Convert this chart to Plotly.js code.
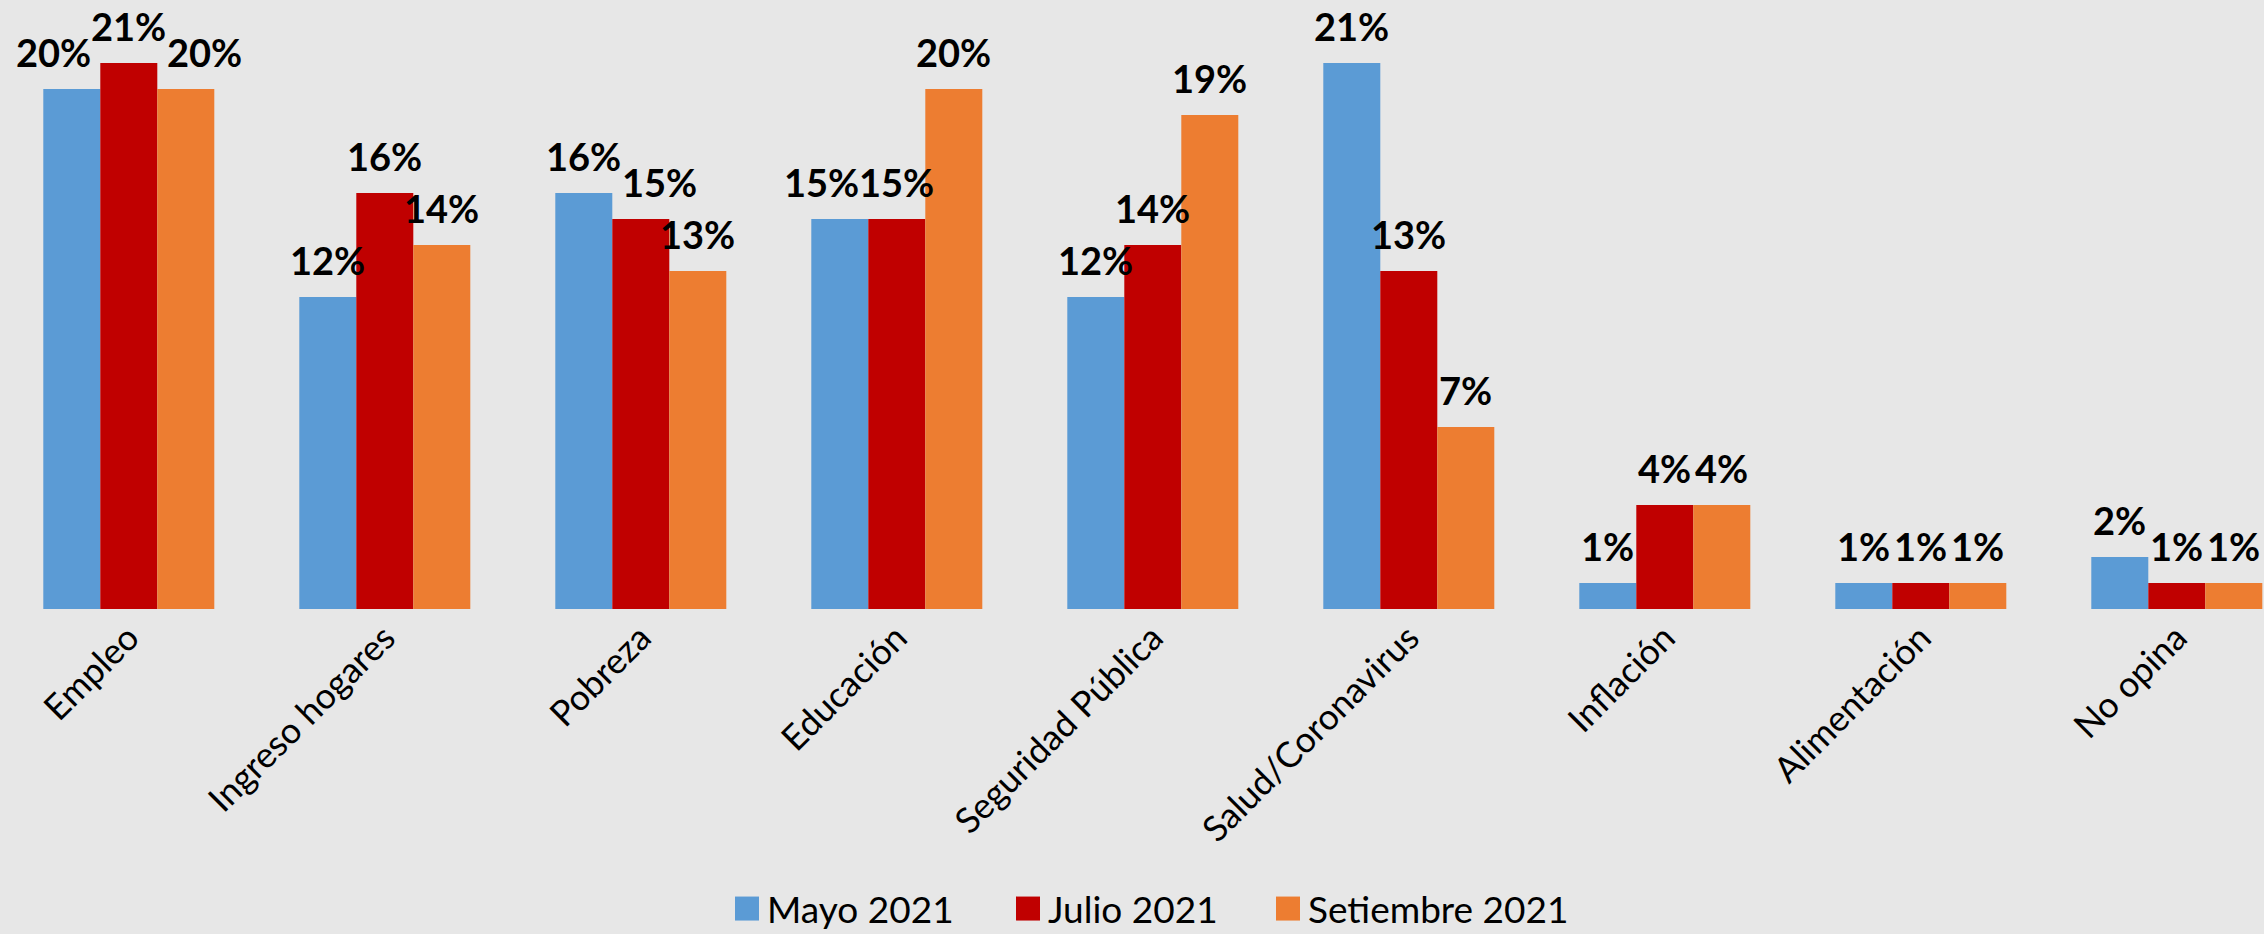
<!DOCTYPE html>
<html>
<head>
<meta charset="utf-8">
<script src="https://cdn.plot.ly/plotly-3.0.1.min.js"></script>
<style>
html,body{margin:0;padding:0;background:#e7e7e7;}
#chart{width:2264px;height:934px;}
</style>
</head>
<body>
<div id="chart"></div>
<script>
// ---- data ----
const categories = ['Empleo','Ingreso hogares','Pobreza','Educación','Seguridad Pública','Salud/Coronavirus','Inflación','Alimentación','No opina'];
const seriesNames = ['Mayo 2021','Julio 2021','Setiembre 2021'];
const mayo2021 = [20,12,16,15,12,21,1,1,2];
const julio2021 = [21,16,15,15,14,13,4,1,1];
const setiembre2021 = [20,14,13,20,19,7,4,1,1];

// ---- style ----
const colors = ['#5B9BD5','#C00000','#ED7D31'];
const W = 2264, H = 934;
const margin = {l:0, r:0, t:0, b:325};
const pxPerCat = 256, firstCenterPx = 128.8;
const xRange = [-firstCenterPx/pxPerCat, (W - firstCenterPx)/pxPerCat];
const pxPerUnit = 26;
const plotH = H - margin.t - margin.b;
const yRange = [0, plotH/pxPerUnit];
const bargap = 0.332;
const barW = (1 - bargap)/3;           // in category units
const barWpx = barW * pxPerCat;
const labelFont = {family:'Lato', size:38, color:'#000000', weight:700};
const tickFont = {family:'Lato', size:35.5, color:'#000000'};
const legendFont = {family:'Lato', size:37, color:'#000000'};

const seriesValues = [mayo2021, julio2021, setiembre2021];
const legendIds = ['legend','legend2','legend3'];

function draw(){
  const cv = document.createElement('canvas').getContext('2d');
  cv.font = '700 38px Lato';
  const tw = s => cv.measureText(s).width;

  const traces = seriesValues.map((vals,k)=>({
    type:'bar', name: seriesNames[k], x: categories, y: vals,
    marker:{color: colors[k]}, legend: legendIds[k], hoverinfo:'skip'
  }));

  // data labels as annotations, with simple collision avoidance
  const annotations = [];
  categories.forEach((c,i)=>{
    const vals = seriesValues.map(s=>s[i]);
    const texts = vals.map(v=>v+'%');
    const widths = texts.map(tw);
    const shift = [0,0,0];
    const centers = k => (k-1)*barWpx + shift[k];
    for(let k=0;k<2;k++){
      const a=k, b=k+1;
      const dv = Math.abs(vals[a]-vals[b])*pxPerUnit;
      if(dv < 30){
        const ov = (widths[a]+widths[b])/2 - (centers(b)-centers(a));
        if(ov > 0){
          if(k===0){
            if(vals[a] <= vals[b]) shift[a] -= ov; else shift[b] += ov;
          } else {
            if(vals[b] <= vals[a]) shift[b] += ov; else shift[a] -= ov;
          }
        }
      }
    }
    vals.forEach((v,k)=>{
      annotations.push({
        xref:'x', yref:'y', x: i + (k-1)*barW, y: v,
        text: texts[k], showarrow:false, xanchor:'center', yanchor:'bottom',
        xshift: shift[k], yshift: 12, font: labelFont
      });
    });
  });

  const legendCenterPx = 909;
  const legendBase = {orientation:'h', xanchor:'left', yanchor:'middle',
    y: (plotH + margin.t - legendCenterPx)/plotH,
    font: legendFont, bgcolor:'rgba(0,0,0,0)', borderwidth:0, itemwidth:30};
  const legendX = [727, 1008, 1268];

  const layout = {
    width:W, height:H, margin:Object.assign({autoexpand:false, pad:0}, margin),
    paper_bgcolor:'#e7e7e7', plot_bgcolor:'#e7e7e7',
    barmode:'group', bargap: bargap, bargroupgap:0,
    showlegend:true,
    xaxis:{type:'category', range:xRange, tickangle:-45, tickfont:tickFont,
      showgrid:false, zeroline:false, showline:false, ticks:'', automargin:false},
    yaxis:{range:yRange, visible:false, showgrid:false, zeroline:false, automargin:false},
    annotations: annotations
  };
  legendIds.forEach((id,k)=>{
    layout[id] = Object.assign({}, legendBase, {x: legendX[k]/W});
  });

  Plotly.newPlot('chart', traces, layout, {displayModeBar:false, staticPlot:true}).then(()=>{
    document.querySelectorAll('.legendpoints path').forEach(p=>p.setAttribute('d','M12,12H-12V-12H12Z'));
  });
}
if(document.fonts && document.fonts.load){
  Promise.all([document.fonts.load('700 38px Lato'), document.fonts.load('35px Lato')]).then(draw, draw);
} else { draw(); }
</script>
</body>
</html>
